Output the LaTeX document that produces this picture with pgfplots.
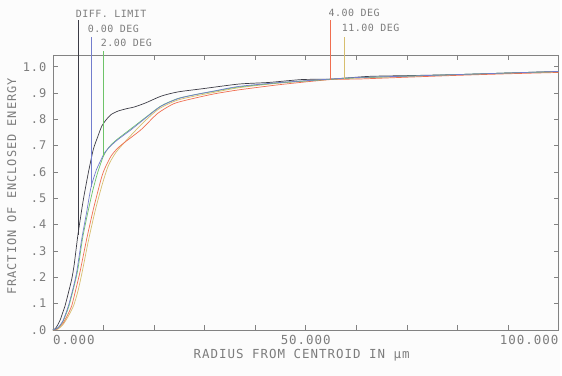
\documentclass[border=0pt]{standalone}
\usepackage{fontspec}
\usepackage{pgfplots}
\pgfplotsset{compat=1.18}
\newfontfamily\plotfont[LetterSpace=8]{DejaVu Sans Mono}
\newfontfamily\smallplotfont[LetterSpace=5]{DejaVu Sans Mono}
\definecolor{txt}{RGB}{125,125,125}
\definecolor{axc}{RGB}{130,130,130}
\definecolor{bgc}{RGB}{252,252,252}
\definecolor{cdiff}{RGB}{60,60,70}
\definecolor{cblue}{RGB}{115,125,205}
\definecolor{cgreen}{RGB}{110,195,105}
\definecolor{corange}{RGB}{240,110,80}
\definecolor{cyellow}{RGB}{215,190,110}
\begin{document}
\begin{tikzpicture}[x=1pt,y=1pt]
\fill[bgc] (0,0) rectangle (562,377);
\begin{axis}[at={(53pt,46pt)}, anchor=south west, scale only axis,
  width=507.5pt, height=276pt,
  xmin=0, xmax=100, ymin=0, ymax=1.045, clip=false,
  axis line style={axc, line width=0.6pt},
  tick style={axc, line width=0.6pt},
  tick align=inside, major tick length=5pt,
  xtick={0,10,20,30,40,50,60,70,80,90,100}, xticklabels={},
  ytick={0,0.1,0.2,0.3,0.4,0.5,0.6,0.7,0.8,0.9,1.0},
  yticklabels={.0,.1,.2,.3,.4,.5,.6,.7,.8,.9,1.0},
  yticklabel style={font={\fontsize{12}{12}\selectfont\plotfont}, text=txt, xshift=-3pt},
  every axis plot/.append style={line width=0.7pt, smooth, tension=0.4}
]
\addplot[cdiff] coordinates {
(0,0) (0.5,0.005) (1.0,0.02) (1.5,0.04) (2.0,0.068) (2.42,0.092) (3.0,0.135) (3.74,0.193)
(4.2,0.245) (4.53,0.295) (4.95,0.36) (5.5,0.43) (6.04,0.496) (7.03,0.598) (8.01,0.686)
(8.92,0.736) (9.7,0.775) (10.57,0.799) (11.5,0.818) (12.85,0.831) (14.5,0.840) (16.14,0.847)
(18.44,0.863) (21.4,0.888) (24.7,0.904) (29.5,0.916) (36.8,0.934) (42.7,0.940) (49.2,0.951)
(55.1,0.953) (62.4,0.963) (70,0.966) (80.1,0.970) (90,0.976) (100,0.982)};
\addplot[cyellow] coordinates {
(0,0) (1.0,0.003) (2.0,0.02) (3.0,0.05) (4.1,0.092) (5.0,0.15) (5.8,0.220) (7.1,0.345)
(8.4,0.455) (9.8,0.555) (11.0,0.625) (12.5,0.675) (15.0,0.73) (18.0,0.79) (21.0,0.84)
(24.5,0.872) (28.0,0.888) (32,0.903) (36.8,0.920) (45,0.938) (57.7,0.955) (70,0.963)
(80,0.969) (90,0.975) (100,0.981)};
\addplot[corange] coordinates {
(0,0) (0.8,0.003) (2.0,0.025) (3.0,0.06) (3.74,0.092) (4.5,0.15) (5.37,0.220) (6.69,0.345)
(8.01,0.458) (9.5,0.57) (10.2,0.61) (11.5,0.66) (12.8,0.69) (14.5,0.717) (17.46,0.761)
(20.7,0.822) (24.0,0.860) (27.95,0.880) (32,0.897) (36.8,0.912) (45,0.932) (54.9,0.951)
(60.4,0.953) (70,0.960) (80,0.967) (90,0.973) (100,0.978)};
\addplot[cgreen] coordinates {
(0,0) (1.0,0.007) (2.0,0.032) (3.2,0.092) (4.85,0.220) (5.85,0.345) (6.85,0.44) (7.9,0.53)
(8.9,0.60) (10.0,0.66) (11.0,0.692) (12.0,0.712) (12.85,0.726) (15.5,0.765) (18.4,0.808)
(21.4,0.851) (24.7,0.879) (27.95,0.893) (32,0.907) (36.8,0.923) (45,0.939) (55,0.952)
(60.4,0.958) (70,0.964) (80,0.970) (90,0.976) (100,0.981)};
\addplot[cblue] coordinates {
(0,0) (1.0,0.008) (2.0,0.035) (3.09,0.092) (4.0,0.158) (4.72,0.220) (5.71,0.345) (6.69,0.447)
(7.55,0.542) (8.6,0.608) (9.0,0.625) (10.24,0.673) (11.5,0.700) (12.85,0.723) (15.5,0.761)
(18.4,0.806) (21.4,0.850) (24.7,0.878) (27.95,0.893) (32,0.908) (36.8,0.925) (45,0.940)
(55,0.953) (60.4,0.959) (70,0.964) (80,0.970) (90,0.976) (100,0.982)};
% marker lines
\draw[cdiff, line width=0.6pt] (axis cs:4.95,0.36) -- (axis cs:4.95,1.178);
\draw[cblue, line width=0.6pt] (axis cs:7.55,0.542) -- (axis cs:7.55,1.114);
\draw[cgreen, line width=0.6pt] (axis cs:10.0,0.66) -- (axis cs:10.0,1.058);
\draw[corange, line width=0.6pt] (axis cs:54.9,0.951) -- (axis cs:54.9,1.178);
\draw[cyellow, line width=0.6pt] (axis cs:57.7,0.955) -- (axis cs:57.7,1.114);
\begin{scope}[every node/.style={inner sep=0pt, anchor=base west, text=txt, font={\fontsize{10}{10}\selectfont\smallplotfont}}]
\node at (axis cs:4.53,1.188) {DIFF. LIMIT};
\node at (axis cs:6.89,1.131) {0.00 DEG};
\node at (axis cs:9.45,1.075) {2.00 DEG};
\node at (axis cs:54.5,1.189) {4.00 DEG};
\node at (axis cs:57.1,1.133) {11.00 DEG};
\end{scope}
\begin{scope}[every node/.style={inner sep=0pt, text=txt, font={\fontsize{12.5}{12.5}\selectfont\plotfont}}]
\node[anchor=base west] at (axis cs:0.0,-0.057) {0.000};
\node[anchor=base] at (axis cs:50,-0.057) {50.000};
\node[anchor=base east] at (axis cs:100,-0.057) {100.000};
\node[anchor=base] at (axis cs:49.2,-0.11) {RADIUS FROM CENTROID IN μm};
\end{scope}
\node[inner sep=0pt, text=txt, rotate=90, anchor=base, font={\fontsize{12}{12}\selectfont\plotfont}] at (axis cs:-7.28,0.545) {FRACTION OF ENCLOSED ENERGY};
\end{axis}
\end{tikzpicture}
\end{document}
